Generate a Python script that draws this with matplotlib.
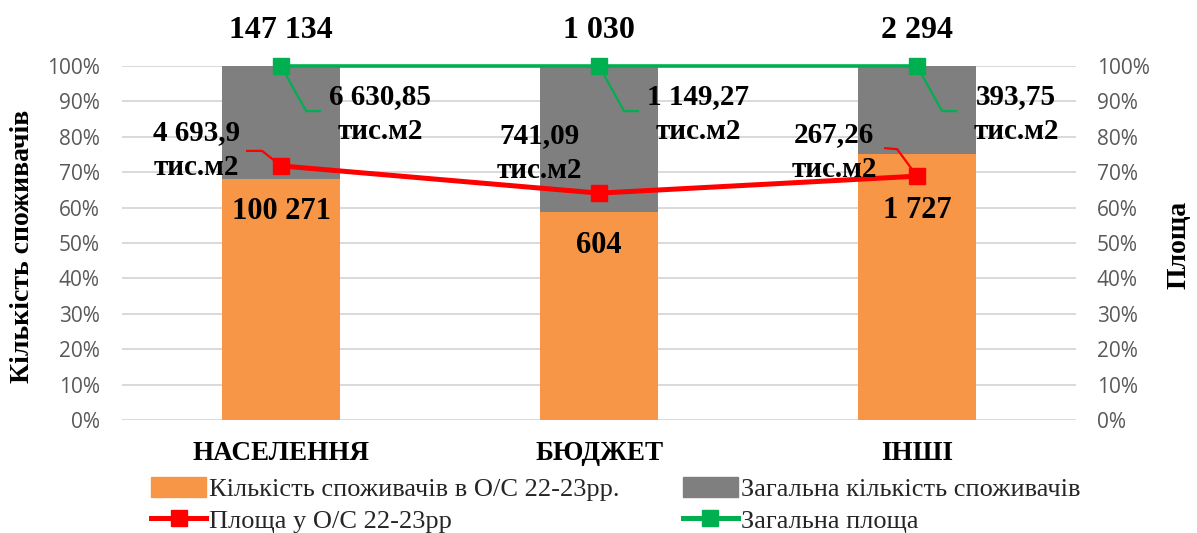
import matplotlib
matplotlib.use("Agg")
import matplotlib.pyplot as plt
from matplotlib.patches import Patch
from matplotlib.lines import Line2D
from matplotlib.transforms import ScaledTranslation
import numpy as np

# ---- data ----
categories = ["НАСЕЛЕННЯ", "БЮДЖЕТ", "ІНШІ"]
consumers_os = [100271, 604, 1727]          # Кількість споживачів в О/С 22-23рр.
consumers_total = [147134, 1030, 2294]      # Загальна кількість споживачів
area_os_pct = [71.8, 64.1, 68.9]            # Площа у О/С 22-23рр (share, %)
area_total_pct = [100, 100, 100]            # Загальна площа (%)
area_os_lbl = ["4 693,9\nтис.м2", "741,09\nтис.м2", "267,26\nтис.м2"]
area_total_lbl = ["6 630,85\nтис.м2", "1 149,27\nтис.м2", "393,75\nтис.м2"]
count_os_lbl = ["100 271", "604", "1 727"]
count_total_lbl = ["147 134", "1 030", "2 294"]
yticks = [0, 10, 20, 30, 40, 50, 60, 70, 80, 90, 100]

# ---- style ----
ORANGE = "#F79646"
GREY = "#7F7F7F"
RED = "#FF0000"
GREEN = "#00B050"
TICKC = "#595959"
SERIF = ["Liberation Serif", "DejaVu Serif"]
SANS = ["Open Sans", "DejaVu Sans"]

os_share = np.array(consumers_os) / np.array(consumers_total) * 100
rest_share = 100 - os_share
x = np.arange(len(categories))

fig = plt.figure(figsize=(11.97, 5.33), dpi=100)
ax = fig.add_axes([0.102, 0.212, 0.797, 0.664])
ax2 = ax.twinx()

ax.bar(x, os_share, width=0.37, color=ORANGE, zorder=2)
ax.bar(x, rest_share, bottom=os_share, width=0.37, color=GREY, zorder=2)

ax.set_xlim(-0.5, len(categories) - 0.5)
ax.set_ylim(0, 100)
ax2.set_ylim(0, 100)
for a in (ax, ax2):
    a.set_yticks(yticks)
    a.set_yticklabels([f"{t}%" for t in yticks])
    for s in a.spines.values():
        s.set_visible(False)
    a.tick_params(axis="y", length=0, labelsize=15, labelcolor=TICKC)
    for lbl in a.get_yticklabels():
        lbl.set_family(SANS)
ax.tick_params(axis="y", pad=16)
ax2.tick_params(axis="y", pad=15)
ax.yaxis.grid(True, color="#D9D9D9", lw=1.4, zorder=0)
ax.set_axisbelow(True)

ax.set_xticks(x)
ax.set_xticklabels(categories)
ax.tick_params(axis="x", length=0, pad=15)
for lbl in ax.get_xticklabels():
    lbl.set_family(SERIF)
    lbl.set_fontsize(19.5)
    lbl.set_fontweight("bold")

# lines
ax2.plot(x, area_os_pct, color=RED, lw=3.6, marker="s", ms=11, zorder=5, clip_on=False)
ax2.plot(x, area_total_pct, color=GREEN, lw=2.6, marker="s", ms=12, zorder=5, clip_on=False)

# axis titles
fig.text(0.019, 0.538, "Кількість споживачів", rotation=90, ha="center", va="center",
         family=SERIF, fontsize=20, fontweight="bold")
fig.text(0.985, 0.54, "Площа", rotation=90, ha="center", va="center",
         family=SERIF, fontsize=20, fontweight="bold")

def off(dx, dy):
    return ax2.transData + ScaledTranslation(dx / 100, dy / 100, fig.dpi_scale_trans)

def leader(pts, xi, yi, color):
    disp = np.array([off(dx, dy).transform((xi, yi)) for dx, dy in pts])
    fig.add_artist(Line2D(disp[:, 0] / fig.bbox.width, disp[:, 1] / fig.bbox.height,
                          transform=fig.transFigure, color=color, lw=1.6, zorder=4))

# total count labels above bars
for i in range(len(categories)):
    ax.text(x[i], 100, count_total_lbl[i], transform=off(0, 36), ha="center", va="center",
            family=SERIF, fontsize=23, fontweight="bold", clip_on=False)

# orange labels
label_y = [58.8, 49.4, 59.3]
for i in range(len(categories)):
    ax.text(x[i], label_y[i], count_os_lbl[i], ha="center", va="center",
            family=SERIF, fontsize=22, fontweight="bold", zorder=6)

# green labels and leaders
for i in range(len(categories)):
    leader([(0, 0), (25, -45), (39, -45)], x[i], area_total_pct[i], GREEN)
    ax2.text(x[i], area_total_pct[i], area_total_lbl[i], transform=off(99, -48),
             ha="center", va="center", family=SERIF, fontsize=21, fontweight="bold",
             linespacing=1.4, zorder=7, clip_on=False)

# red labels and leaders
red_text_off = [(-85, 16), (-60, 40), (-83, 24)]
red_leaders = [[(0, 0), (-19, 15), (-34, 15)], None, [(0, 0), (-20, 27), (-32, 28)]]
for i in range(len(categories)):
    if red_leaders[i] is not None:
        leader(red_leaders[i], x[i], area_os_pct[i], RED)
    dx, dy = red_text_off[i]
    ax2.text(x[i], area_os_pct[i], area_os_lbl[i], transform=off(dx, dy),
             ha="center", va="center", family=SERIF, fontsize=21, fontweight="bold",
             linespacing=1.35, zorder=7, clip_on=False)

# legend
handles = [
    Patch(color=ORANGE),
    Line2D([], [], color=RED, lw=3.6, marker="s", ms=11),
    Patch(color=GREY),
    Line2D([], [], color=GREEN, lw=3.6, marker="s", ms=11),
]
labels = ["Кількість споживачів в О/С 22-23рр.", "Площа у О/С 22-23рр",
          "Загальна кількість споживачів", "Загальна площа"]
fig.legend(handles, labels, ncol=2, loc="upper left", bbox_to_anchor=(0.126, 0.106),
           frameon=False, prop={"family": SERIF, "size": 19}, handlelength=2.1,
           handleheight=0.8, handletextpad=0.1, columnspacing=2.4, labelspacing=0.3,
           borderaxespad=0, borderpad=0, labelcolor="#262626")

fig.savefig("out.png", dpi=100)
